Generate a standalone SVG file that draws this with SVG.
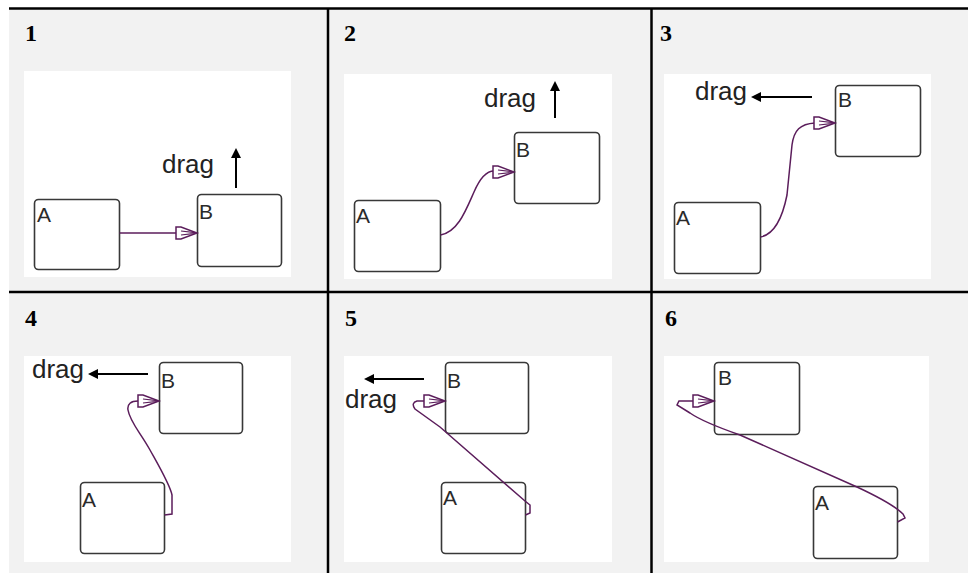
<svg xmlns="http://www.w3.org/2000/svg" width="968" height="573" viewBox="0 0 968 573">
<style>
.cell{fill:#f2f2f2}
.canvas{fill:#ffffff}
.grid{stroke:#000;stroke-width:2.5;fill:none}
.num{font-family:"Liberation Serif","DejaVu Serif",serif;font-weight:bold;font-size:24px;fill:#000}
.state{fill:#fff;stroke:#383838;stroke-width:1.6}
.lbl{font-family:"Liberation Sans",Arial,sans-serif;font-size:21px;fill:#2a2a2a}
.drag{font-family:"Liberation Sans",Arial,sans-serif;font-size:26px;fill:#222}
.dline{stroke:#000;stroke-width:2;fill:none}
.dhead{fill:#000}
.tr{stroke:#5b1d5b;stroke-width:1.5;fill:none}
</style>
<defs>
<g id="head">
<path d="M-21,-6.5 L-21,6.5 M-21,-6 L-16,-6 L0,0 L-16,6 L-21,6 Z" fill="#fff" stroke="#5b1d5b" stroke-width="1.5"/>
<path d="M-16,-2 L-2,-0.4 M-16,2 L-2,0.4" fill="none" stroke="#5b1d5b" stroke-width="1.2"/>
</g>
</defs>
<rect class="cell" x="9" y="9" width="959" height="564"/>
<g id="canvases">
<rect class="canvas" x="24" y="71" width="267" height="206"/>
<rect class="canvas" x="344" y="74" width="268" height="205"/>
<rect class="canvas" x="664" y="74" width="267" height="205"/>
<rect class="canvas" x="24" y="356" width="267" height="206"/>
<rect class="canvas" x="344" y="356" width="268" height="206"/>
<rect class="canvas" x="664" y="356" width="265" height="206"/>
</g>
<g id="grid">
<line class="grid" x1="9" y1="8.5" x2="968" y2="8.5"/>
<line class="grid" x1="9" y1="292" x2="968" y2="292"/>
<line class="grid" x1="328" y1="8" x2="328" y2="573"/>
<line class="grid" x1="651.5" y1="8" x2="651.5" y2="573"/>
</g>
<g id="numbers">
<text class="num" x="25" y="41">1</text>
<text class="num" x="344" y="41">2</text>
<text class="num" x="660" y="41">3</text>
<text class="num" x="25" y="326">4</text>
<text class="num" x="345" y="326">5</text>
<text class="num" x="665" y="326">6</text>
</g>
<g id="p1-A"><rect class="state" x="34.5" y="199.5" width="85" height="70" rx="4"/><text class="lbl" x="37" y="222">A</text></g>
<g id="p1-B"><rect class="state" x="197.5" y="194.5" width="84" height="72" rx="4"/><text class="lbl" x="199" y="219">B</text></g>
<g id="p2-A"><rect class="state" x="354.5" y="200.5" width="86" height="71" rx="4"/><text class="lbl" x="356" y="223">A</text></g>
<g id="p2-B"><rect class="state" x="514.5" y="132.5" width="85" height="71" rx="4"/><text class="lbl" x="516" y="157">B</text></g>
<g id="p3-A"><rect class="state" x="674.5" y="202.5" width="86" height="71" rx="4"/><text class="lbl" x="676" y="225">A</text></g>
<g id="p3-B"><rect class="state" x="835.5" y="85.5" width="85" height="71" rx="4"/><text class="lbl" x="838" y="107">B</text></g>
<g id="p4-A"><rect class="state" x="80.5" y="482.5" width="84" height="71" rx="4"/><text class="lbl" x="82" y="507">A</text></g>
<g id="p4-B"><rect class="state" x="159.5" y="362.5" width="83" height="71" rx="4"/><text class="lbl" x="161" y="388">B</text></g>
<g id="p5-A"><rect class="state" x="441.5" y="482.5" width="84" height="71" rx="4"/><text class="lbl" x="443" y="505">A</text></g>
<g id="p5-B"><rect class="state" x="445.5" y="362.5" width="83" height="71" rx="4"/><text class="lbl" x="447" y="388">B</text></g>
<g id="p6-A"><rect class="state" x="813.5" y="486.5" width="84" height="72" rx="4"/><text class="lbl" x="815" y="510">A</text></g>
<g id="p6-B"><rect class="state" x="714.5" y="362.5" width="85" height="72" rx="4"/><text class="lbl" x="718" y="385">B</text></g>
<g id="drag-labels">
<text class="drag" x="162" y="173">drag</text>
<line class="dline" x1="236" y1="188" x2="236" y2="156"/><polygon class="dhead" points="236,148 231,158 241,158"/>
<text class="drag" x="484" y="107">drag</text>
<line class="dline" x1="555" y1="118" x2="555" y2="89"/><polygon class="dhead" points="555,81 550,91 560,91"/>
<text class="drag" x="695" y="100">drag</text>
<line class="dline" x1="812" y1="97" x2="759" y2="97"/><polygon class="dhead" points="751,97 761,92 761,102"/>
<text class="drag" x="32" y="378">drag</text>
<line class="dline" x1="148" y1="374" x2="96" y2="374"/><polygon class="dhead" points="88,374 98,369 98,379"/>
<text class="drag" x="345" y="408">drag</text>
<line class="dline" x1="424" y1="379" x2="372" y2="379"/><polygon class="dhead" points="364,379 374,374 374,384"/>
</g>
<g id="connectors">
<path class="tr" d="M119.5,233 L176,233"/>
<use href="#head" transform="translate(197,233)"/>
<path class="tr" d="M440.5,235 C458,232 466,210 474,192 C480,178 486,171 494,171"/>
<use href="#head" transform="translate(514,172)"/>
<path class="tr" d="M760.5,237 C776,234 783,215 787,195 L792,145 C794,130 800,124 815,123"/>
<use href="#head" transform="translate(835,123)"/>
<path class="tr" d="M164.5,515 L172,514 L172,495 C170,485 160,468 150,450 C140,432 130,422 128,410 C127,404 131,401 138,401"/>
<use href="#head" transform="translate(159,401)"/>
<path class="tr" d="M525.5,515 L530,513 L530,505 L525,501 L440,427 L415,409 C412,405 413,402 417,401 L424,401"/>
<use href="#head" transform="translate(445,401)"/>
<path class="tr" d="M897.5,522 L905,518 L903,514 C898,509 885,500 857,487 L740,435 C720,428 700,420 690,413 L677,405 L679,401 L694,401"/>
<use href="#head" transform="translate(714,401)"/>
</g>
</svg>
